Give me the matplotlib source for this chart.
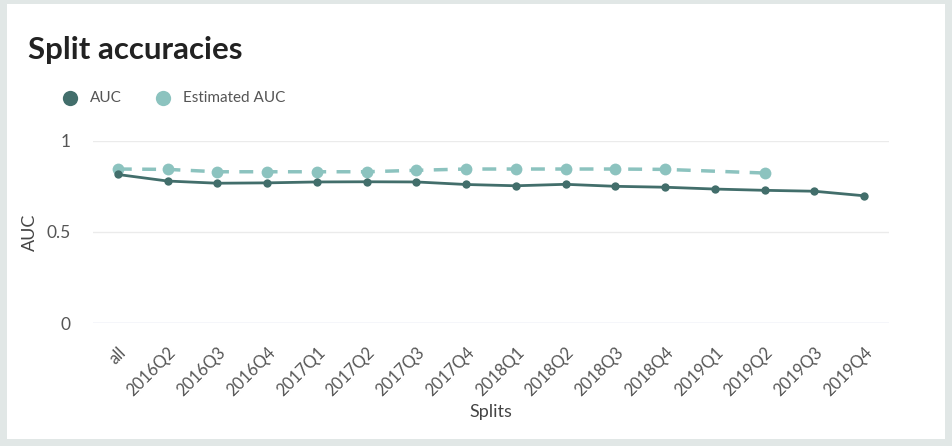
import matplotlib
matplotlib.use("Agg")
import matplotlib.pyplot as plt
from matplotlib.patches import Rectangle
import numpy as np

splits = ["all", "2016Q2", "2016Q3", "2016Q4", "2017Q1", "2017Q2", "2017Q3", "2017Q4",
          "2018Q1", "2018Q2", "2018Q3", "2018Q4", "2019Q1", "2019Q2", "2019Q3", "2019Q4"]
auc = [0.816, 0.780, 0.768, 0.770, 0.775, 0.776, 0.775, 0.761,
       0.754, 0.762, 0.751, 0.746, 0.736, 0.729, 0.724, 0.699]
est_auc = [0.846, 0.844, 0.831, 0.831, 0.831, 0.831, 0.839, 0.846,
           0.846, 0.846, 0.846, 0.844, None, 0.824, None, None]
yticks = [0, 0.5, 1]
ytick_labels = ["0", "0.5", "1"]

FONT = ["Lato", "DejaVu Sans"]
plt.rcParams["font.family"] = FONT

W, H = 952, 446
fig = plt.figure(figsize=(W / 100, H / 100), dpi=100)
fig.patch.set_facecolor("#e1e7e6")
card = Rectangle((7 / W, 7 / H), (945 - 7) / W, (442 - 7) / H, transform=fig.transFigure,
                 facecolor="white", edgecolor="none", zorder=-10)
fig.patches.append(card)

ax = fig.add_axes([93 / W, (H - 323) / H, (889 - 93) / W, (323 - 141) / H])
ax.set_zorder(2)
ax.set_facecolor("none")

x = np.arange(len(splits))
dark = "#426e6b"
light = "#8cc3bf"

ex = [i for i, v in enumerate(est_auc) if v is not None]
ev = [v for v in est_auc if v is not None]
ax.plot(ex, ev, color=light, lw=2.5, ls=(0, (4, 3)), marker="o", ms=8.5,
        markeredgewidth=0, clip_on=False, zorder=3)
ax.plot(x, auc, color=dark, lw=2, marker="o", ms=6, markeredgewidth=0,
        clip_on=False, zorder=4)

ax.set_xlim(-0.5, len(splits) - 0.5)
ax.set_ylim(0, 1)
ax.set_yticks(yticks)
ax.set_yticklabels(ytick_labels, fontsize=12.5)
ax.set_xticks(x)
ax.set_xticklabels(splits, rotation=45, ha="right", rotation_mode="anchor", fontsize=12)

for y in yticks:
    ax.axhline(y, color="#cdd5e6" if y == 0 else "#ebebeb", lw=1, zorder=1)

for s in ax.spines.values():
    s.set_visible(False)
ax.tick_params(axis="both", length=0, colors="#555555")
ax.tick_params(axis="y", pad=16)
ax.tick_params(axis="x", pad=15)

ax.set_ylabel("AUC", color="#444444", fontsize=13, labelpad=6)
ax.set_xlabel("Splits", color="#444444", fontsize=13, labelpad=4)

fig.text(28 / W, 1 - 50 / H, "Split accuracies", fontsize=22.5, fontweight="bold",
         color="#222222", va="center", ha="left")

# legend
ly = 1 - 98 / H
fig.lines.append(plt.Line2D([70 / W], [ly], transform=fig.transFigure, marker="o",
                            ms=11, color=dark, markeredgewidth=0, ls="none"))
fig.text(90 / W, ly, "AUC", fontsize=11, color="#555555", va="center", ha="left")
fig.lines.append(plt.Line2D([163 / W], [ly], transform=fig.transFigure, marker="o",
                            ms=11, color=light, markeredgewidth=0, ls="none"))
fig.text(183 / W, ly, "Estimated AUC", fontsize=11, color="#555555", va="center", ha="left")

fig.savefig("out.png", dpi=100, facecolor=fig.get_facecolor())
